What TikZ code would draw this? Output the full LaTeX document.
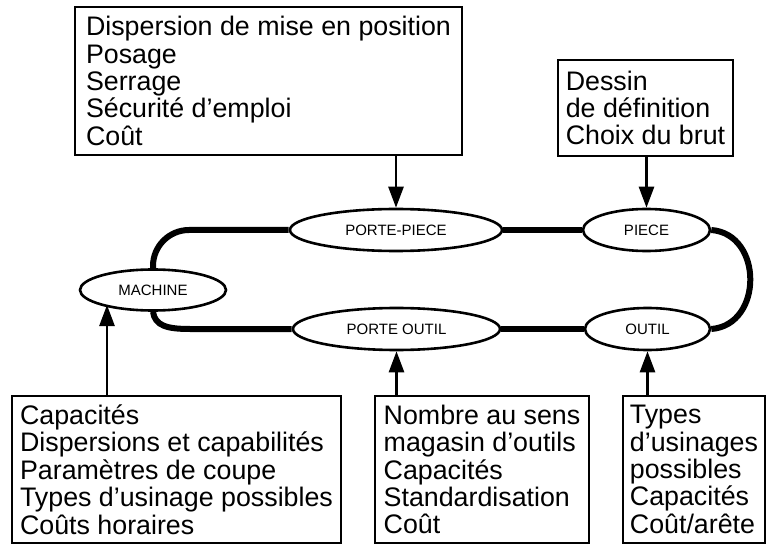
\documentclass[tikz,border=0pt]{standalone}
\usepackage{fontspec}
\setmainfont{Liberation Sans}
\usetikzlibrary{shapes.geometric,arrows.meta,calc}
\begin{document}
\begin{tikzpicture}[x=1pt,y=-1pt,
  infobox/.style={draw, line width=1.5pt, rectangle, inner sep=0pt, align=left,
    font=\fontsize{26.8}{27.4}\selectfont},
  oval/.style={draw, line width=2.6pt, ellipse, fill=white, inner sep=0pt,
    minimum height=42pt, font=\fontsize{15}{15}\selectfont},
  ring/.style={line width=6pt},
  feed/.style={line width=2.6pt, -{Triangle[length=21pt,width=15pt]}}]
\useasboundingbox (0,0) rectangle (766,548);

% ovals
\node[oval, minimum width=212pt] (pp) at (396,230) {PORTE-PIECE};
\node[oval, minimum width=127pt] (piece) at (646.5,230) {PIECE};
\node[oval, minimum width=146pt, minimum height=41pt] (machine) at (153,290) {MACHINE};
\node[oval, minimum width=207pt] (poutil) at (396.5,329) {PORTE OUTIL};
\node[oval, minimum width=125pt] (outil) at (647.5,329) {OUTIL};

% ring connections
\draw[ring] (pp.east) -- (piece.west);
\draw[ring] (poutil.east) -- (outil.west);
\draw[ring, rounded corners=36pt] (machine.north) |- (pp.west);
\draw[ring] (machine.south) .. controls ($(machine.south)+(2,14)$) and ($(machine.south |- poutil.west)+(14,0)$) .. ($(machine.south |- poutil.west)+(37,0)$) -- (poutil.west);
\draw[ring] (piece.east) .. controls ($(piece.east)+(52,4)$) and ($(outil.east)+(52,-4)$) .. (outil.east);

% boxes
\node[infobox, minimum width=387pt, minimum height=148pt] (tbox) at (268.5,81)
  {Dispersion de mise en position\\Posage\\Serrage\\Sécurité d'emploi\\Coût};
\node[infobox, minimum width=175pt, minimum height=96pt] (dbox) at (645.5,108)
  {Dessin\\de définition\\Choix du brut};
\node[infobox, minimum width=329pt, minimum height=147pt] (lbox) at (176.5,469.5)
  {Capacités\\Dispersions et capabilités\\Paramètres de coupe\\Types d'usinage possibles\\Coûts horaires};
\node[infobox, minimum width=214pt, minimum height=147pt] (mbox) at (482,469.5)
  {Nombre au sens\\magasin d'outils\\Capacités\\Standardisation\\Coût};
\node[infobox, minimum width=142pt, minimum height=147pt] (rbox) at (694,469.5)
  {Types\\d'usinages\\possibles\\Capacités\\Coût/arête};

% arrows
\coordinate (mtip) at ($(machine.center)+(-46,15)$);
\draw[feed] (tbox.south -| pp.north) -- (pp.north);
\draw[feed] (dbox.south -| piece.north) -- (piece.north);
\draw[feed] (lbox.north -| mtip) -- (mtip);
\draw[feed] (mbox.north -| poutil.south) -- (poutil.south);
\draw[feed] (rbox.north -| outil.south) -- (outil.south);
\end{tikzpicture}
\end{document}
